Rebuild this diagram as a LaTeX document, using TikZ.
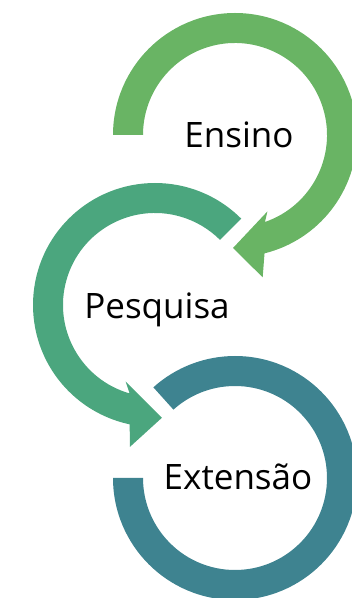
\documentclass[tikz,border=0pt]{standalone}
\usepackage{fontspec}
\setmainfont{Open Sans}
\usepackage{xcolor}
\usepackage{tikz}
\usetikzlibrary{calc,positioning}
\definecolor{ensinogreen}{HTML}{69B464}
\definecolor{pesquisagreen}{HTML}{4BA67E}
\definecolor{extensaoteal}{HTML}{3E8390}

\begin{document}
\begin{tikzpicture}[x=1pt,y=1pt,
    termo/.style={anchor=base, font=\fontsize{35}{42}\selectfont, text=black}]
    \useasboundingbox (0,0) rectangle (352,598);
    \coordinate (cE) at (235,463);
    \coordinate (cP) at (155,293);
    \coordinate (cX) at (235,120);

    % Ensino
    \fill[ensinogreen] ($(cE)+(180:122)$) arc[start angle=180, end angle=-76, radius=122]
        -- ($(cE)+(-79:145)$) -- ($(cE)+(-91:113)$) -- ($(cE)+(-67:83)$)
        -- ($(cE)+(-71:92)$) arc[start angle=-71, end angle=180, radius=92] -- cycle;
    \node[termo] (ensino) at ($(cE)+(4,-13)$) {Ensino};

    % Pesquisa
    \fill[pesquisagreen] ($(cP)+(45:122)$) arc[start angle=45, end angle=258, radius=122]
        -- ($(cP)+(260:144)$) -- ($(cP)+(273.5:113)$) -- ($(cP)+(249:82)$)
        -- ($(cP)+(254:92)$) arc[start angle=254, end angle=45, radius=92] -- cycle;
    \node[termo] (pesquisa) at ($(cP)+(2,-14)$) {Pesquisa};

    % Extensao
    \fill[extensaoteal] ($(cX)+(180:122)$) arc[start angle=180, end angle=492, radius=122]
        -- ($(cX)+(132:92)$) arc[start angle=132, end angle=-180, radius=92] -- cycle;
    \node[termo] (extensao) at ($(cX)+(3,-12)$) {Extensão};
\end{tikzpicture}
\end{document}
